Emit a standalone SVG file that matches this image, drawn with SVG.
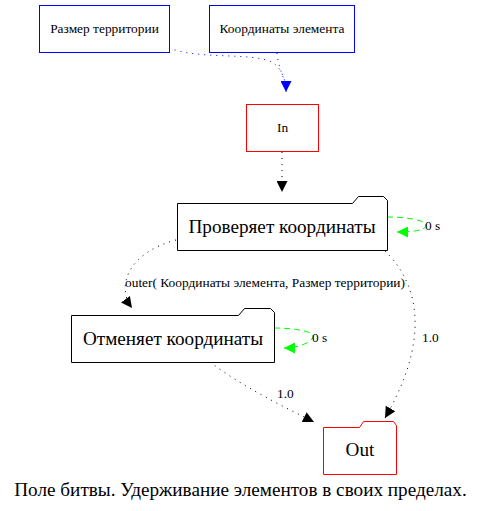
<svg xmlns="http://www.w3.org/2000/svg" width="481" height="511" viewBox="0 0 481 511">
<defs>
<style>
text{font-family:'Liberation Serif','Times New Roman',serif}
.s{font-size:13.4px}
.m{font-size:19.2px}
.box{fill:#fff;stroke-width:1}
.blue{stroke:#0000ff}
.red{stroke:#ff0000}
.blk{stroke:#000}
.e{fill:none;stroke-width:1}
.dot{stroke-dasharray:1,5}
.dash{stroke-dasharray:6,4}
</style>
<marker id="ab" viewBox="0 0 10 10" refX="10" refY="5" markerWidth="11" markerHeight="11" markerUnits="userSpaceOnUse" orient="auto"><path d="M0,0L10,5L0,10z" fill="#0000ff"/></marker>
<marker id="ak" viewBox="0 0 10 10" refX="10" refY="5" markerWidth="11" markerHeight="11" markerUnits="userSpaceOnUse" orient="auto"><path d="M0,0L10,5L0,10z" fill="#000"/></marker>
<marker id="ag" viewBox="0 0 10 10" refX="10" refY="5" markerWidth="11" markerHeight="11" markerUnits="userSpaceOnUse" orient="auto"><path d="M0,0L10,5L0,10z" fill="#00ff00"/></marker>
</defs>
<rect width="481" height="511" fill="#fff"/>
<g fill="#000">
<g id="edges">
<path class="e dot" stroke="#0000ff" d="M169,48 C200,60 250,52 272,62 C284,70 286,84 286,92"/>
<path class="e dot" stroke="#0000ff" d="M277,53 C278,68 286,80 286,92" marker-end="url(#ab)"/>
<path class="e dot" stroke="#000" d="M282,152 L282,192" marker-end="url(#ak)"/>
<path class="e dash" stroke="#00ff00" d="M387,217 C405,217 428,220 426,226 C424,231 410,232 397,232" marker-end="url(#ag)"/>
<path class="e dot" stroke="#000" d="M176,240 C130,252 115,285 132,308" marker-end="url(#ak)"/>
<path class="e dot" stroke="#000" d="M385,251 C420,285 430,340 385,418" marker-end="url(#ak)"/>
<path class="e dash" stroke="#00ff00" d="M274,328 C292,328 315,331 313,337 C311,343 297,348 284,348" marker-end="url(#ag)"/>
<path class="e dot" stroke="#000" d="M210,362 C240,385 280,405 314,422" marker-end="url(#ak)"/>
<text class="s" x="425" y="230">0 s</text>
<text class="s" x="125" y="287">outer( Координаты элемента, Размер территории)</text>
<text class="s" x="422" y="342">1.0</text>
<text class="s" x="312" y="342">0 s</text>
<text class="s" x="277" y="398">1.0</text>
</g>
<g id="node-razmer">
<rect class="box blue" x="39.5" y="5.5" width="130" height="47"/>
<text class="s" x="104.5" y="33" text-anchor="middle">Размер территории</text>
</g>
<g id="node-koord">
<rect class="box blue" x="209.5" y="5.5" width="145" height="47"/>
<text class="s" x="282" y="33" text-anchor="middle">Координаты элемента</text>
</g>
<g id="node-in">
<rect class="box red" x="246.5" y="104.5" width="72" height="47"/>
<text class="s" x="282.5" y="132" text-anchor="middle">In</text>
</g>
<g id="node-prov">
<path class="box blk" d="M177.5,203.5 L352.5,203.5 L358.5,196.5 L383.5,196.5 L387.5,200.5 L387.5,250.5 L177.5,250.5 Z"/>
<text class="m" x="282" y="233" text-anchor="middle">Проверяет координаты</text>
</g>
<g id="node-otm">
<path class="box blk" d="M71.5,315.5 L238.5,315.5 L244.5,308.5 L270.5,308.5 L274.5,312.5 L274.5,362.5 L71.5,362.5 Z"/>
<text class="m" x="173" y="345" text-anchor="middle">Отменяет координаты</text>
</g>
<g id="node-out">
<path class="box red" d="M323.5,427.5 L359.5,427.5 L363.5,421.5 L393.5,421.5 L396.5,425.5 L396.5,474.5 L323.5,474.5 Z"/>
<text class="m" x="360" y="456" text-anchor="middle">Out</text>
</g>
<text class="m" x="240.5" y="496" text-anchor="middle">Поле битвы. Удерживание элементов в своих пределах.</text>
</g>
</svg>
